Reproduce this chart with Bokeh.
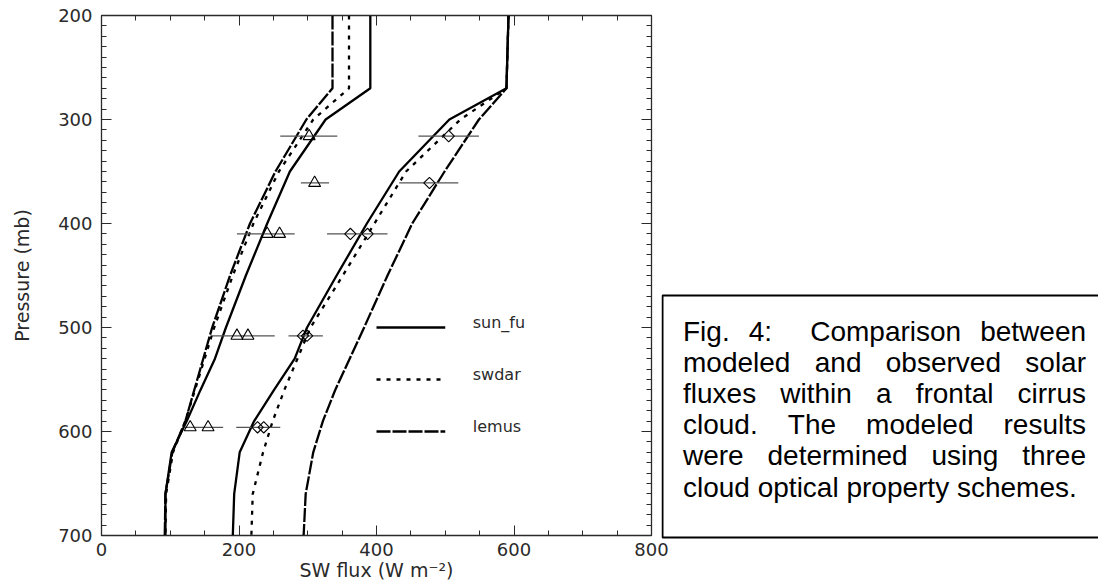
from bokeh.plotting import figure
from bokeh.models import Range1d, SingleIntervalTicker, LinearAxis, CustomJSTickFormatter
from bokeh.layouts import row, column
from bokeh.embed import file_html
from bokeh.resources import INLINE
from bokeh.core.properties import value

# ---------------- data ----------------
pressure = [200, 270, 300, 350, 400, 450, 500, 530, 560, 590, 620, 660, 700]
up_sun_fu = [391, 391, 326, 274, 241, 210, 181, 165, 144, 124, 102, 93, 93]
up_swdar = [360, 360, 308, 258, 221, 191, 164, 150, 136, 122, 104, 94, 93]
up_lemus = [336, 336, 298, 253, 216, 187, 161, 148, 135, 122, 103, 93, 92]
dn_sun_fu = [592, 589, 506, 433, 386, 342, 299, 281, 251, 222, 201, 193, 191]
dn_swdar = [592, 589, 522, 443, 397, 351, 304, 285, 266, 249, 235, 220, 218]
dn_lemus = [592, 589, 549, 499, 452, 416, 382, 361, 340, 322, 308, 297, 294]

tri_p = [316, 361, 410, 410, 508, 508, 596, 596]
tri_flux = [302, 310, 241, 259, 197, 213, 129, 155]
dia_p = [316, 361, 410, 410, 508, 508, 596, 596]
dia_flux = [505, 477, 362, 387, 293, 299, 227, 236]

bar_p = [316, 361, 410, 508, 596]
tri_lo = [260, 290, 197, 161, 121]
tri_hi = [343, 331, 281, 252, 177]
dia_lo = [461, 433, 328, 272, 196]
dia_hi = [549, 519, 416, 322, 260]

legend_names = ["sun_fu", "swdar", "lemus"]
legend_p = [500, 550, 600]
legend_x = [400, 500]
legend_text_x = 540

x_ticks_interval = 200
y_ticks_interval = 100

caption_lines = [
    "Fig. 4:  Comparison between",
    "modeled and observed solar",
    "fluxes within a frontal cirrus",
    "cloud. The modeled results",
    "were determined using three",
    "cloud optical property schemes.",
]

# ---------------- layout constants ----------------
W, H = 1098, 585
FL, FR, FT, FB = 101, 651, 15, 535
MAIN_W = 672
CAP_X0 = 661                 # where the caption panel (and its box) starts
CAP_W = W - CAP_X0
XMIN, XMAX, PTOP, PBOT = 0, 800, 200, 700

AX_FONT = "DejaVu Sans"
AX_COL = "#2a2a2a"

p = figure(width=MAIN_W, height=H, x_range=Range1d(XMIN, XMAX), y_range=Range1d(PBOT, PTOP),
           output_backend="svg", toolbar_location=None,
           min_border_left=FL, min_border_right=MAIN_W - FR, min_border_top=FT,
           min_border_bottom=H - FB,
           x_axis_label="SW flux (W m\u207b\u00b2)", y_axis_label="Pressure (mb)")
p.grid.visible = False
p.background_fill_color = "white"
p.border_fill_color = "white"
p.outline_line_color = AX_COL
p.outline_line_width = 1.3

def style_axis(ax, labels=True):
    ax.axis_line_color = AX_COL
    ax.major_tick_line_color = AX_COL
    ax.minor_tick_line_color = AX_COL
    ax.major_tick_in = 10
    ax.major_tick_out = 0
    ax.minor_tick_in = 5
    ax.minor_tick_out = 0
    ax.major_label_text_font = AX_FONT
    ax.major_label_text_color = AX_COL
    ax.axis_label_text_font = AX_FONT
    ax.axis_label_text_color = AX_COL
    ax.axis_label_text_font_style = "normal"
    if not labels:
        ax.formatter = CustomJSTickFormatter(code="return '';")
        ax.major_label_standoff = 0

p.xaxis.ticker = SingleIntervalTicker(interval=x_ticks_interval, num_minor_ticks=4)
p.yaxis.ticker = SingleIntervalTicker(interval=y_ticks_interval, num_minor_ticks=10)
for ax in p.xaxis:
    style_axis(ax)
    ax.major_label_text_font_size = "18px"
    ax.axis_label_text_font_size = "19px"
    ax.major_label_standoff = 7
    ax.axis_label_standoff = 0
for ax in p.yaxis:
    style_axis(ax)
    ax.major_label_text_font_size = "18px"
    ax.axis_label_text_font_size = "19px"
    ax.major_label_standoff = 9
    ax.axis_label_standoff = 22

# mirrored tick marks on the top and right edges
top_ax = LinearAxis(ticker=SingleIntervalTicker(interval=x_ticks_interval, num_minor_ticks=4))
style_axis(top_ax, labels=False)
p.add_layout(top_ax, "above")
right_ax = LinearAxis(ticker=SingleIntervalTicker(interval=y_ticks_interval, num_minor_ticks=10))
style_axis(right_ax, labels=False)
p.add_layout(right_ax, "right")

LW = 2.3
DOT = "4 6"
LONG = "14 2"
# model curves
p.line(up_sun_fu, pressure, line_color="black", line_width=LW)
p.line(up_swdar, pressure, line_color="black", line_width=LW, line_dash=DOT)
p.line(up_lemus, pressure, line_color="black", line_width=LW, line_dash=LONG)
p.line(dn_sun_fu, pressure, line_color="black", line_width=LW)
p.line(dn_swdar, pressure, line_color="black", line_width=LW, line_dash=DOT)
p.line(dn_lemus, pressure, line_color="black", line_width=LW, line_dash=LONG)

# observation error bars
p.segment(x0=tri_lo, y0=bar_p, x1=tri_hi, y1=bar_p, line_color="#555555", line_width=1.2)
p.segment(x0=dia_lo, y0=bar_p, x1=dia_hi, y1=bar_p, line_color="#555555", line_width=1.2)
# observation markers
p.scatter(tri_flux, tri_p, marker="triangle", size=12, fill_color=None,
          line_color="black", line_width=1.1)
p.scatter(dia_flux, dia_p, marker="square", angle=0.785398, size=8, fill_color=None,
          line_color="black", line_width=1.1)

# legend (drawn inside plot, as in the original)
dashes = ["solid", DOT, LONG]
for name, lp, dash in zip(legend_names, legend_p, dashes):
    p.line(legend_x, [lp, lp], line_color="black", line_width=LW, line_dash=dash)
p.text(x=[legend_text_x] * 3, y=legend_p, text=legend_names, text_font=value(AX_FONT),
       text_font_size="16px", text_color=AX_COL, text_baseline="bottom", y_offset=4)

# ---------------- caption panel ----------------
cap = figure(width=CAP_W, height=H, x_range=Range1d(0, CAP_W), y_range=Range1d(H, 0),
             output_backend="svg", toolbar_location=None,
             min_border=0, min_border_top=0, min_border_bottom=0,
             min_border_left=0, min_border_right=0,
             x_axis_location=None, y_axis_location=None)
cap.grid.visible = False
cap.outline_line_color = None
cap.background_fill_alpha = 0
cap.border_fill_alpha = 0

ARIAL = {' ': 278, '.': 278, ':': 278, '4': 556,
         'C': 722, 'F': 611, 'T': 611,
         'a': 556, 'b': 556, 'c': 500, 'd': 556, 'e': 556, 'f': 278, 'g': 556, 'h': 556,
         'i': 222, 'j': 222, 'k': 500, 'l': 222, 'm': 833, 'n': 556, 'o': 556, 'p': 556,
         'q': 556, 'r': 333, 's': 500, 't': 278, 'u': 556, 'v': 500, 'w': 722, 'x': 500,
         'y': 500, 'z': 500}
CAP_FONT = "Liberation Sans"
CAP_FS = 28
CAP_L, CAP_R = 682.5 - CAP_X0, 1085.5 - CAP_X0
CAP_BASE0, CAP_STEP = 331, 31.1
BOX_TOP, BOX_BOT = 295, 537

def tw(s):
    return sum(ARIAL.get(c, 556) for c in s) / 1000 * CAP_FS

cap.quad(left=1, right=CAP_W + 20, top=BOX_TOP, bottom=BOX_BOT, fill_color=None,
         line_color="black", line_width=2)

wx, wy, wt = [], [], []
for i, line in enumerate(caption_lines):
    base = CAP_BASE0 + i * CAP_STEP
    if i == len(caption_lines) - 1:
        wx.append(CAP_L); wy.append(base); wt.append(line)
        continue
    toks, weights = [], []
    for w in line.split(" "):
        if w == "":
            weights[-1] += 1
        else:
            toks.append(w)
            weights.append(1)
    weights = weights[:-1]
    free = (CAP_R - CAP_L) - sum(tw(t) for t in toks)
    unit = free / sum(weights)
    xpos = CAP_L
    for j, t in enumerate(toks):
        wx.append(xpos); wy.append(base); wt.append(t)
        if j < len(weights):
            xpos += tw(t) + unit * weights[j]

cap.text(x=wx, y=wy, text=wt, text_font=value(CAP_FONT), text_font_size=f"{CAP_FS}px",
         text_color="black", text_baseline="alphabetic", text_align="left")

cap_col = column(cap, spacing=0)
cap_col.margin = (0, 0, 0, -(MAIN_W - CAP_X0))
layout = row(p, cap_col, spacing=0)
open("out.html", "w").write(file_html(layout, INLINE))
